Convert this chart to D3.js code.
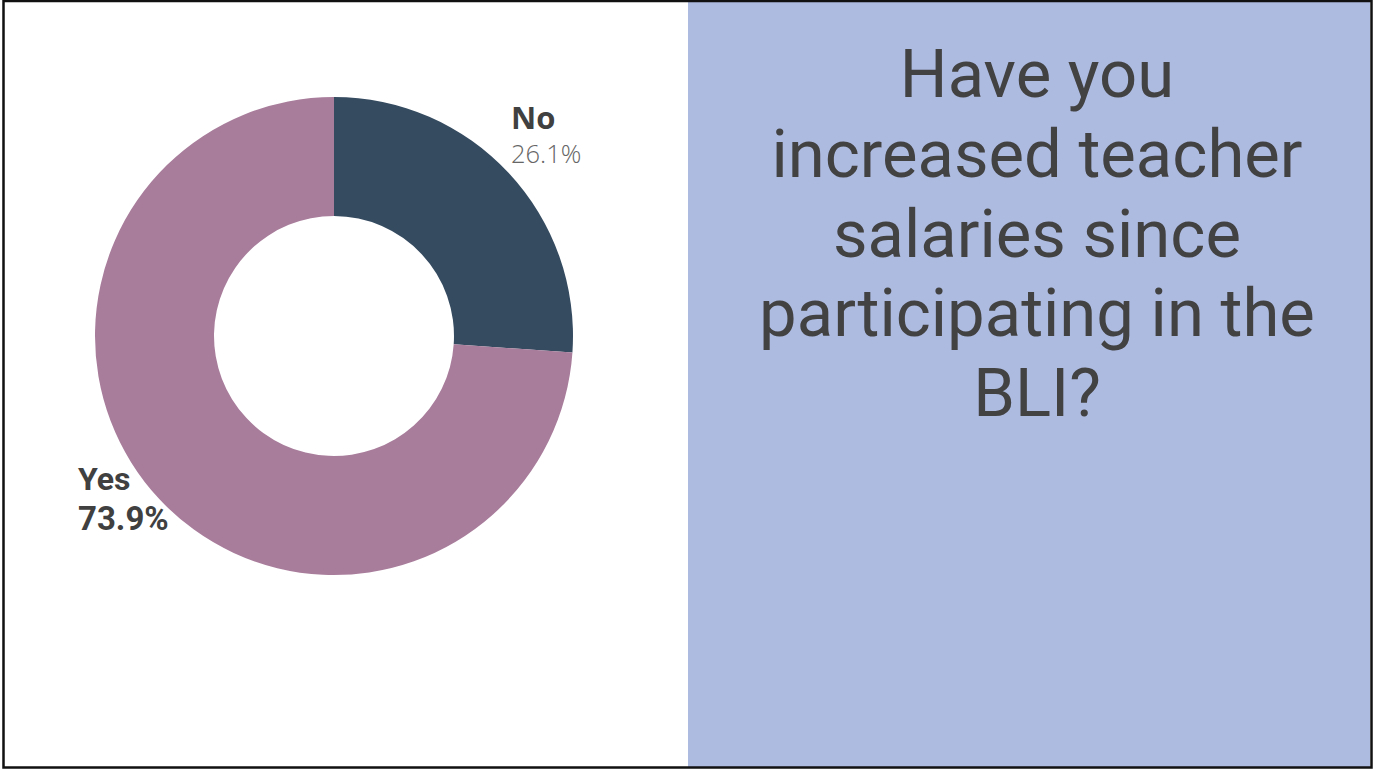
<!DOCTYPE html>
<html><head><meta charset="utf-8">
<script src="https://cdn.jsdelivr.net/npm/d3@7"></script>
<style>html,body{margin:0;padding:0;background:#fff;overflow:hidden}</style>
</head><body>
<script>
const categories = ["No", "Yes"];
const values = [26.1, 73.9];
const valueLabels = ["26.1%", "73.9%"];
const colors = ["#354b60", "#a87c9b"];
const titleLines = ["Have you", "increased teacher", "salaries since", "participating in the", "BLI?"];

const W = 1374, H = 769;
const svg = d3.select("body").append("svg").attr("width", W).attr("height", H);

svg.append("rect").attr("x", 0).attr("y", 0).attr("width", W).attr("height", H).attr("fill", "#fff");
svg.append("rect").attr("x", 688).attr("y", 2).attr("width", 682).attr("height", 765).attr("fill", "#aebbe1");

// frame
svg.append("rect").attr("x", 3.5).attr("y", 1).attr("width", 1368).attr("height", 766.5)
  .attr("fill", "none").attr("stroke", "#111").attr("stroke-width", 2.5);

const cx = 334, cy = 336, R = 239, r = 120;
const pie = d3.pie().sort(null).value(d => d)(values);
const arc = d3.arc().innerRadius(r).outerRadius(R);
const g = svg.append("g").attr("transform", `translate(${cx},${cy})`);
g.selectAll("path").data(pie).join("path").attr("d", arc).attr("fill", (d, i) => colors[i]);

// labels
svg.append("text").attr("x", 511).attr("y", 129).text(categories[0])
  .attr("font-family", "Open Sans").attr("font-weight", "bold").attr("font-size", 31).attr("fill", "#404040");
svg.append("text").attr("x", 511).attr("y", 163).text(valueLabels[0])
  .attr("font-family", "Open Sans").attr("font-weight", 300).attr("font-size", 25.5).attr("fill", "#666");
svg.append("text").attr("x", 78).attr("y", 490).text(categories[1])
  .attr("font-family", "Roboto").attr("font-weight", "bold").attr("font-size", 32).attr("fill", "#404040");
svg.append("text").attr("x", 78).attr("y", 530).text(valueLabels[1])
  .attr("font-family", "Roboto").attr("font-weight", "bold").attr("font-size", 33).attr("fill", "#404040");

// title
svg.append("g").selectAll("text").data(titleLines).join("text")
  .attr("x", 1037).attr("y", (d, i) => 97 + i * 79.75)
  .attr("text-anchor", "middle")
  .attr("font-family", "Roboto").attr("font-size", 67).attr("fill", "#424242")
  .text(d => d);
</script>
</body></html>
